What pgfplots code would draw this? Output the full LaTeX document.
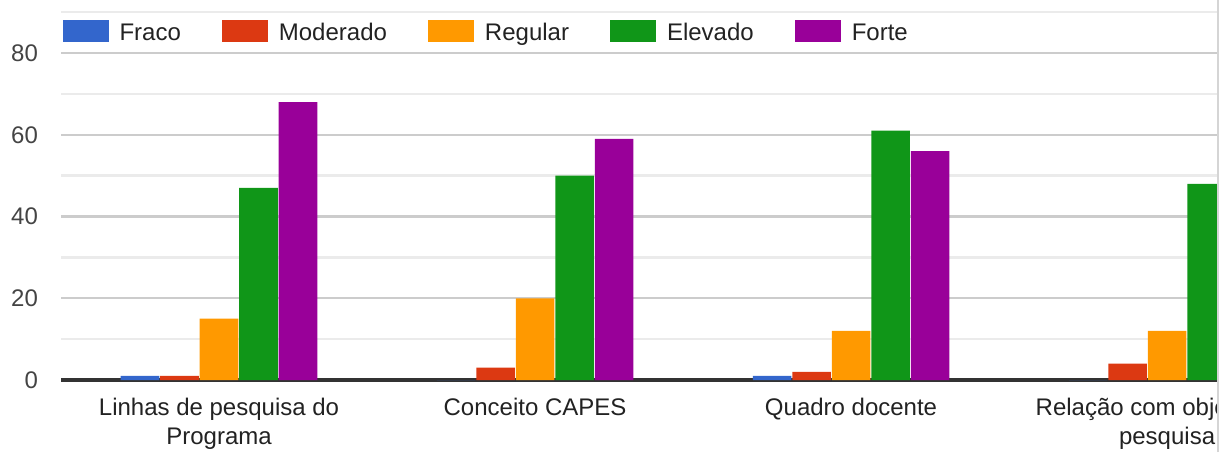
\documentclass[border=0pt]{standalone}
\usepackage{fontspec}
\setmainfont{Liberation Sans}
\usepackage{pgfplots}
\pgfplotsset{compat=1.18}
\definecolor{cFraco}{HTML}{3366CC}
\definecolor{cModerado}{HTML}{DC3912}
\definecolor{cRegular}{HTML}{FF9900}
\definecolor{cElevado}{HTML}{109618}
\definecolor{cForte}{HTML}{990099}
\definecolor{gridmaj}{HTML}{CCCCCC}
\definecolor{gridmin}{HTML}{EBEBEB}
\definecolor{baseline}{HTML}{333333}
\definecolor{txt}{HTML}{222222}
\definecolor{ticktxt}{HTML}{444444}

\begin{document}
\begin{tikzpicture}
% 1 px of the reference = 0.5pt
\path[use as bounding box] (0,0) rectangle (609.5pt,226pt);
\clip (0,0) rectangle (609.5pt,226pt);
\begin{axis}[
    at={(30.5pt,36pt)}, anchor=south west,
    scale only axis, width=578pt, height=188pt,
    xmin=-0.5, xmax=3.158, ymin=0, ymax=92,
    axis line style={draw=none},
    major tick length=0pt, minor tick length=0pt,
    /pgf/number format/assume math mode=true,
    xtick={0,1,2,3},
    xticklabels={Linhas de pesquisa do\\Programa, Conceito CAPES, Quadro docente, Relação com objetivo de\\pesquisa},
    xticklabel style={align=center, font=\fontsize{12}{14.5}\selectfont, text=txt, yshift=-5.5pt},
    ytick={0,20,...,80},
    minor ytick={10,30,50,70,90},
    yticklabel style={font=\fontsize{12}{14.5}\selectfont, text=ticktxt, xshift=-8pt},
    ymajorgrids, yminorgrids,
    major grid style={color=gridmaj, line width=1.2pt},
    minor grid style={color=gridmin, line width=1.2pt},
    extra y ticks={0}, extra y tick labels={},
    extra y tick style={major grid style={color=baseline, line width=1.6pt}},
    legend columns=-1,
    legend image code/.code={\fill[#1, draw=none] (0pt,-5.5pt) rectangle (23pt,5.5pt);},
    legend style={at={(0.001,0.9285)}, anchor=west, draw=none, fill=none,
        inner sep=0pt, font=\fontsize{12}{14.5}\selectfont, text=txt,
        nodes={inner sep=0pt, text height=8.6pt, text depth=0pt, yshift=-0.7pt},
        /tikz/every odd column/.append style={column sep=5.5pt},
        /tikz/every even column/.append style={column sep=20.5pt}},
    legend cell align=left,
]
\addplot[ybar, bar width=0.122, bar shift=-0.25, fill=cFraco, draw=none]
    coordinates {(0,1) (1,0) (2,1) (3,0)};
\addplot[ybar, bar width=0.122, bar shift=-0.125, fill=cModerado, draw=none]
    coordinates {(0,1) (1,3) (2,2) (3,4)};
\addplot[ybar, bar width=0.122, bar shift=0, fill=cRegular, draw=none]
    coordinates {(0,15) (1,20) (2,12) (3,12)};
\addplot[ybar, bar width=0.122, bar shift=0.125, fill=cElevado, draw=none]
    coordinates {(0,47) (1,50) (2,61) (3,48)};
\addplot[ybar, bar width=0.122, bar shift=0.25, fill=cForte, draw=none]
    coordinates {(0,68) (1,59) (2,56)};
\legend{Fraco, Moderado, Regular, Elevado, Forte}
\end{axis}
\draw[color=gridmin!80!gray, line width=1pt] (609pt,0) -- (609pt,226pt);
\end{tikzpicture}
\end{document}
